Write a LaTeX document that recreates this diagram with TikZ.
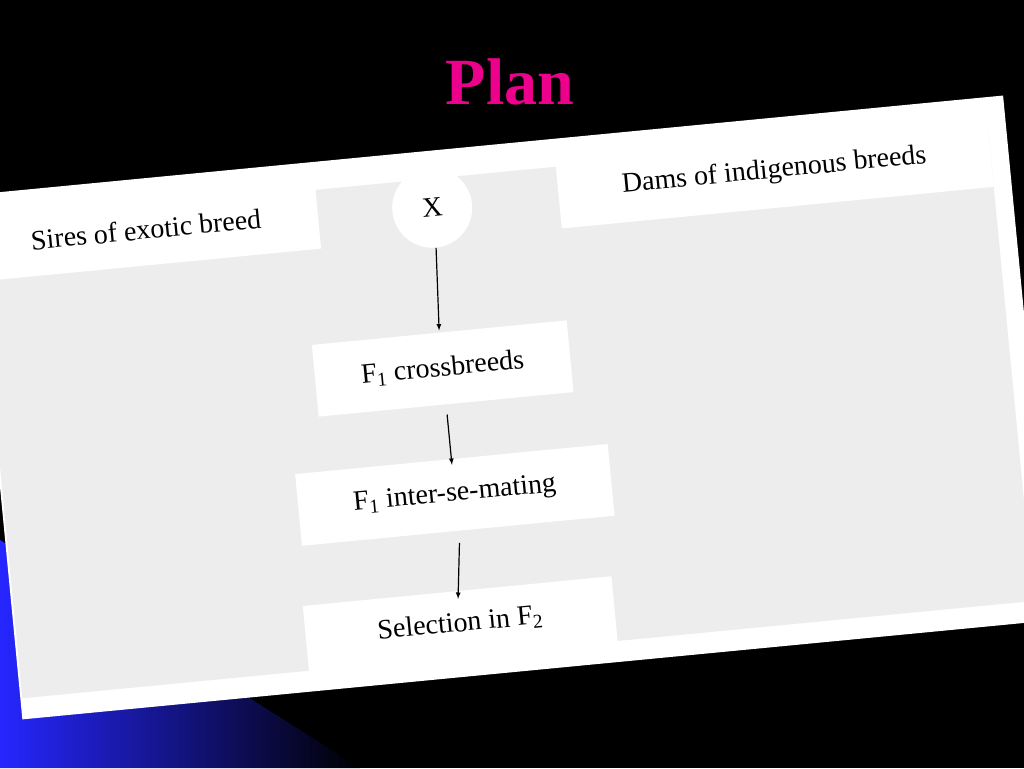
\documentclass[tikz,border=0pt]{standalone}
\usepackage{fontspec}
\setmainfont{Liberation Serif}
\begin{document}
\begin{tikzpicture}[x=1pt,y=-1pt,
  lbl/.style={fill=white,inner sep=0pt,font=\fontsize{28}{30}\selectfont},
  arr/.style={-latex,line width=1.2pt,shorten >=2pt}]
\useasboundingbox (0,0) rectangle (1024,768);
\fill[black] (0,0) rectangle (1024,768);
\begin{scope}
\clip (0,540) -- (360,768) -- (0,768) -- cycle;
\shade[left color=blue!85!white, right color=black] (0,540) rectangle (360,768);
\end{scope}
\node[font=\bfseries\fontsize{66}{70}\selectfont,text=magenta] (title) at (510,82) {Plan};
\begin{scope}[shift={(512,400)},rotate=5.5,transform shape]
\fill[white] (-518,-256) rectangle (518,271);
\fill[black!7] (-516,-228) rectangle (500,250);
\node[lbl,minimum width=345pt,minimum height=72pt] (sires) at (-348,-205) {Sires of exotic breed};
\node[lbl,minimum width=434pt,minimum height=74pt] (dams) at (283,-203) {Dams of indigenous breeds};
\node[lbl,circle,minimum size=80pt] (x) at (-61,-199) {X};
\node[lbl,minimum width=256pt,minimum height=72pt] (f1) at (-66,-38) {F\textsubscript{1} crossbreeds};
\node[lbl,minimum width=314pt,minimum height=72pt] (f1i) at (-66,89) {F\textsubscript{1} inter-se-mating};
\node[lbl,minimum width=310pt,minimum height=66pt] (sel) at (-73,218) {Selection in F\textsubscript{2}};
\draw[arr] (x.south) -- (f1.north);
\draw[arr] ([yshift=-10pt]f1.south) -- ([yshift=-8pt]f1i.north);
\draw[arr] ([yshift=-12pt]f1i.south) -- ([yshift=-10pt]sel.north);
\end{scope}
\end{tikzpicture}
\end{document}
